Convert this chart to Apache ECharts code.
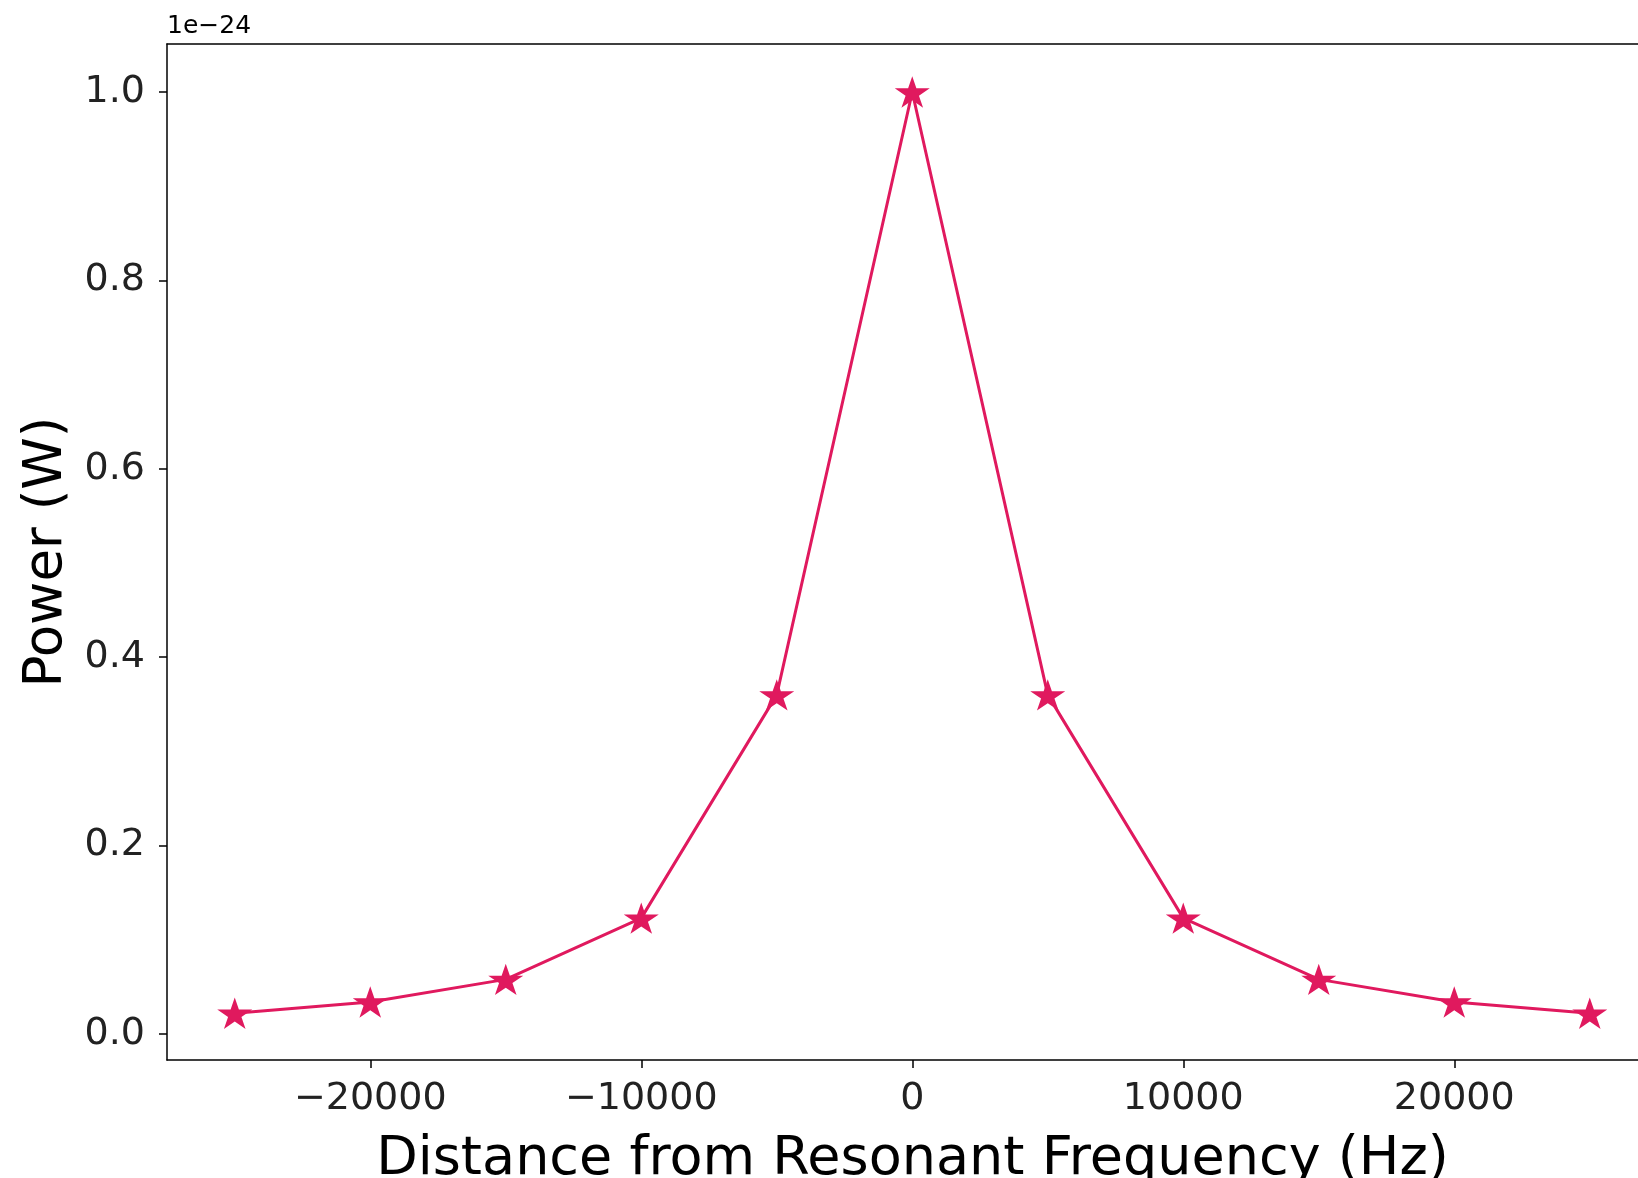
<!DOCTYPE html>
<html>
<head>
<meta charset="utf-8">
<script src="https://cdn.jsdelivr.net/npm/echarts@6/dist/echarts.min.js"></script>
<style>html,body{margin:0;padding:0;background:#fff;}#c{width:1638px;height:1178px;}</style>
</head>
<body>
<div id="c"></div>
<script>
// Frequency offsets (Hz)
const freqs = [-25000, -20000, -15000, -10000, -5000, 0, 5000, 10000, 15000, 20000, 25000];
// Power values in units of 1e-24 W
const power = [0.022, 0.034, 0.058, 0.123, 0.36, 1.0, 0.36, 0.123, 0.058, 0.034, 0.022];
const yTicks = [0.0, 0.2, 0.4, 0.6, 0.8, 1.0];
const xTicks = [-20000, -10000, 0, 10000, 20000];
const scaleLabel = '1e\u221224';
const xTitle = 'Distance from Resonant Frequency (Hz)';
const yTitle = 'Power (W)';

const FONT = 'DejaVu Sans';
const COLOR = '#e0195e';
const STAR = 'path://M0,-1L0.2245,-0.309L0.951,-0.309L0.3633,0.118L0.5878,0.809L0,0.382L-0.5878,0.809L-0.3633,0.118L-0.951,-0.309L-0.2245,-0.309Z';
const fmtMinus = s => String(s).replace('-', '\u2212');
const AX = {color: '#000', width: 1.5};

const chart = echarts.init(document.getElementById('c'), null, {renderer: 'canvas'});
chart.setOption({
  animation: false,
  backgroundColor: '#ffffff',
  grid: {left: 167, top: 44, bottom: 118, right: 0, show: false, containLabel: false, outerBoundsMode: 'none'},
  xAxis: [{
    type: 'value', min: -27500, max: 26780, position: 'bottom',
    axisLine: {show: true, onZero: false, lineStyle: AX},
    axisTick: {show: true, length: 8, lineStyle: AX, customValues: xTicks},
    axisLabel: {fontFamily: FONT, fontSize: 38, color: '#222', margin: 20, customValues: xTicks, formatter: v => fmtMinus(v)},
    splitLine: {show: false},
    name: xTitle, nameLocation: 'middle', nameGap: 73,
    nameTextStyle: {fontFamily: FONT, fontSize: 54, color: '#000', padding: [0, 0, 0, 20]}
  }, {
    type: 'value', min: -27500, max: 26780, position: 'top',
    axisLine: {show: true, onZero: false, lineStyle: AX},
    axisTick: {show: false}, axisLabel: {show: false}, splitLine: {show: false}
  }],
  yAxis: {
    type: 'value', min: -0.0276, max: 1.051,
    axisLine: {show: true, onZero: false, lineStyle: AX},
    axisTick: {show: true, length: 8, lineStyle: AX, customValues: yTicks},
    axisLabel: {fontFamily: FONT, fontSize: 38, color: '#222', margin: 22, customValues: yTicks, formatter: v => v.toFixed(1)},
    splitLine: {show: false},
    name: yTitle, nameLocation: 'middle', nameGap: 92,
    nameTextStyle: {fontFamily: FONT, fontSize: 53, color: '#000'}
  },
  graphic: [{
    type: 'text', left: 167, top: 14,
    style: {text: scaleLabel, fontFamily: FONT, fontSize: 25, fill: '#000'}
  }],
  series: [{
    type: 'line',
    xAxisIndex: 0,
    data: freqs.map((f, i) => [f, power[i]]),
    symbol: STAR, symbolSize: [35, 33], symbolKeepAspect: true,
    lineStyle: {color: COLOR, width: 3},
    itemStyle: {color: COLOR},
    z: 3
  }]
});
</script>
</body>
</html>
